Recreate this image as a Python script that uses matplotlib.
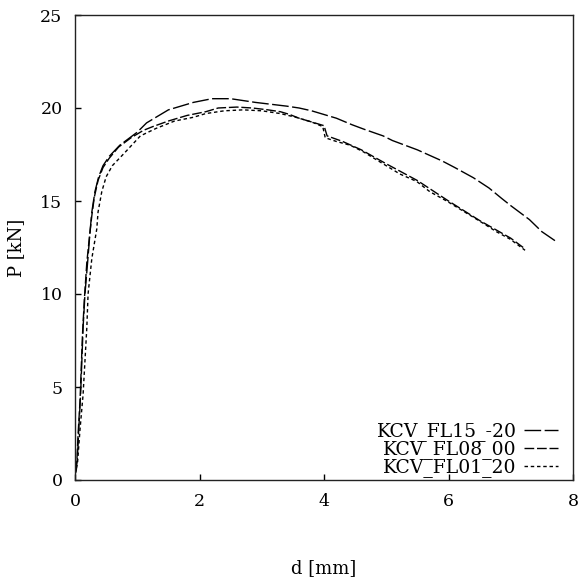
import matplotlib
matplotlib.use("Agg")
import matplotlib.pyplot as plt

# KCV_FL15_-20 (long dashes)
d_fl15 = [0.0, 0.02, 0.04, 0.06, 0.09, 0.11, 0.13, 0.16, 0.21, 0.24, 0.27, 0.32, 0.38, 0.45,
          0.55, 0.72, 1.0, 1.15, 1.3, 1.5, 1.7, 1.9, 2.2, 2.5, 2.7, 2.9, 3.15, 3.4, 3.6, 3.8,
          4.0, 4.2, 4.45, 4.65, 4.95, 5.1, 5.5, 5.9, 6.1, 6.4, 6.65, 6.85, 7.0, 7.3, 7.5, 7.74]
p_fl15 = [0.3, 0.5, 1.3, 2.7, 4.6, 6.4, 8.2, 10.0, 12.0, 13.3, 14.4, 15.5, 16.3, 16.9,
          17.4, 18.0, 18.7, 19.2, 19.5, 19.9, 20.1, 20.3, 20.5, 20.5, 20.4, 20.3, 20.2, 20.1, 20.0, 19.85,
          19.65, 19.45, 19.1, 18.85, 18.5, 18.25, 17.75, 17.15, 16.8, 16.25, 15.7, 15.15, 14.75, 14.0, 13.35, 12.8]

# KCV_FL08_00 (dense dashes)
d_fl08 = [0.0, 0.03, 0.05, 0.08, 0.1, 0.12, 0.15, 0.19, 0.23, 0.27, 0.31, 0.37, 0.45, 0.55,
          0.7, 0.9, 1.1, 1.25, 1.5, 1.8, 2.1, 2.3, 2.6, 2.85, 3.1, 3.3, 3.45, 3.6, 3.8, 4.0,
          4.05, 4.3, 4.6, 5.0, 5.5, 6.0, 6.5, 7.0, 7.2]
p_fl08 = [0.5, 1.0, 2.5, 4.2, 6.0, 7.8, 9.7, 11.7, 13.0, 14.2, 15.2, 16.1, 16.8, 17.3,
          17.9, 18.4, 18.8, 19.0, 19.3, 19.6, 19.8, 20.0, 20.05, 20.0, 19.9, 19.8, 19.65, 19.45, 19.25, 19.05,
          18.5, 18.2, 17.75, 17.0, 16.1, 15.0, 13.95, 13.0, 12.5]

# KCV_FL01_20 (short dashes)
d_fl01 = [0.0, 0.04, 0.08, 0.13, 0.16, 0.19, 0.21, 0.27, 0.35, 0.37, 0.43, 0.5, 0.6, 0.8,
          1.05, 1.3, 1.6, 1.9, 2.1, 2.4, 2.7, 3.0, 3.3, 3.55, 3.8, 3.98, 4.02, 4.2, 4.42, 4.63,
          4.9, 5.22, 5.49, 5.7, 5.97, 6.24, 6.51, 6.77, 6.99, 7.23]
p_fl01 = [0.3, 0.9, 2.7, 4.6, 6.4, 8.2, 10.0, 11.9, 13.5, 14.4, 15.5, 16.3, 16.9, 17.6,
          18.5, 18.9, 19.3, 19.5, 19.7, 19.85, 19.9, 19.85, 19.7, 19.5, 19.25, 19.0, 18.4, 18.2, 18.0, 17.65,
          17.1, 16.45, 16.05, 15.5, 15.0, 14.45, 13.9, 13.35, 12.95, 12.35]

labels = ["KCV_FL15_-20", "KCV_FL08_00", "KCV_FL01_20"]
x_ticks = [0, 2, 4, 6, 8]
y_ticks = [0, 5, 10, 15, 20, 25]

plt.rcParams['font.family'] = ['DejaVu Serif']
fig = plt.figure(figsize=(5.82, 5.87), dpi=100)
ax = fig.add_axes([75 / 582, (587 - 480) / 587, 498 / 582, 465 / 587])

ax.plot(d_fl15, p_fl15, color='black', lw=1.0, dashes=(12, 2.5), label=labels[0])
ax.plot(d_fl08, p_fl08, color='black', lw=1.0, dashes=(7, 2), label=labels[1])
ax.plot(d_fl01, p_fl01, color='black', lw=1.0, dashes=(2.5, 2), label=labels[2])

ax.set_xlim(0, 8)
ax.set_ylim(0, 25)
ax.set_xticks(x_ticks)
ax.set_yticks(y_ticks)
ax.tick_params(direction='in', length=4, width=1, labelsize=12.5, pad=9,
               top=False, right=False)
ax.set_xlabel('d [mm]', fontsize=13, labelpad=36)
ax.set_ylabel('P [kN]', fontsize=13, labelpad=11)
for s in ax.spines.values():
    s.set_linewidth(1.0)
    s.set_color('#222222')

leg = ax.legend(loc='lower right', bbox_to_anchor=(0.975, 0.0), frameon=False,
                markerfirst=False, fontsize=13.5, handlelength=1.8, handletextpad=0.4,
                labelspacing=-0.05, borderaxespad=0.0, borderpad=0.15)

fig.savefig('out.png', dpi=100)
